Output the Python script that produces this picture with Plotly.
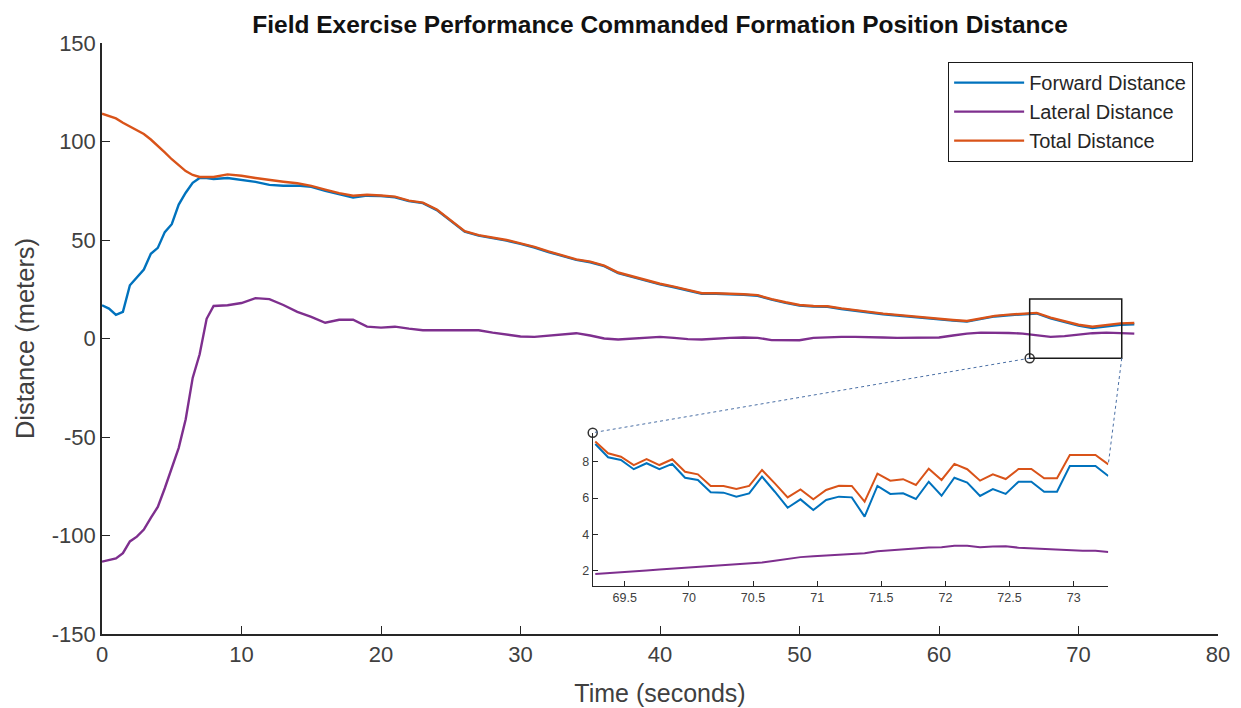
import plotly.graph_objects as go

# ---------------- main data ----------------
time_s = [0, 0.5, 1, 1.5, 2, 2.5, 3, 3.5, 4, 4.5, 5, 5.5, 6, 6.5, 7, 7.5, 8,
          9, 10, 11, 12, 13, 14, 15, 16, 17, 18, 19, 20, 21, 22, 23, 24, 25, 26,
          27, 28, 29, 30, 31, 32, 33, 34, 35, 36, 37, 38, 39, 40, 41, 42, 43, 44,
          45, 46, 47, 48, 49, 50, 51, 52, 53, 54, 55, 56, 57, 58, 59, 60, 61, 62,
          63, 64, 65, 66, 67, 68, 69, 70, 71, 72, 73, 74]

forward_distance = [16.9, 15.2, 12.0, 13.5, 27.0, 31.0, 35.0, 43.0, 46.0, 54.0, 58.0, 68.0, 74.0, 79.0, 81.5, 81.5, 81.0,
                    81.5, 80.5, 79.5, 78.0, 77.5, 77.6, 77.0, 75.0, 73.3, 71.5, 72.5, 72.3, 71.7, 69.7, 68.7, 65.2, 59.7, 54.2,
                    52.2, 50.9, 49.7, 48.0, 46.2, 43.9, 41.7, 39.9, 38.7, 36.7, 33.2, 31.2, 29.2, 27.5, 26.0, 24.2, 22.7, 22.7,
                    22.5, 22.2, 21.7, 19.7, 18.1, 16.7, 16.2, 16.1, 15.0, 14.0, 13.1, 12.3, 11.7, 11.0, 10.3, 9.6, 9.1, 8.6,
                    10.0, 11.2, 11.8, 12.3, 12.7, 10.2, 8.4, 6.6, 5.3, 6.2, 7.0, 7.2]

lateral_distance = [-113.3, -112.5, -111.6, -109.0, -103.0, -100.6, -97.0, -91.0, -85.5, -76.0, -66.0, -55.5, -41.0, -20.0, -8.0, 10.0, 16.5,
                    16.9, 18.0, 20.5, 20.0, 17.0, 13.5, 11.0, 8.0, 9.5, 9.5, 6.0, 5.5, 6.0, 5.0, 4.2, 4.2, 4.2, 4.0,
                    4.2, 3.0, 2.0, 1.0, 0.8, 1.5, 2.3, 2.7, 1.5, 0.0, -0.5, 0.0, 0.5, 0.8, 0.3, -0.3, -0.5, 0.0,
                    0.3, 0.5, 0.3, -0.8, -0.8, -0.9, 0.3, 0.6, 0.8, 0.8, 0.8, 0.5, 0.3, 0.3, 0.3, 0.5, 1.5, 2.5,
                    3.0, 3.0, 2.8, 2.5, 1.8, 0.8, 1.2, 2.0, 2.7, 3.0, 2.8, 2.5]

total_distance = [114.1, 113.0, 111.7, 109.5, 107.5, 105.5, 103.8, 101.0, 98.0, 94.5, 91.0, 88.0, 85.0, 83.0, 82.0, 82.0, 82.0,
                  83.3, 82.6, 81.5, 80.4, 79.6, 78.8, 77.5, 75.6, 73.8, 72.5, 73.0, 72.6, 72.0, 70.0, 69.0, 65.5, 60.0, 54.5,
                  52.5, 51.2, 50.0, 48.3, 46.5, 44.2, 42.0, 40.2, 39.0, 37.0, 33.5, 31.5, 29.5, 27.8, 26.3, 24.5, 23.0, 23.0,
                  22.8, 22.5, 22.0, 20.0, 18.4, 17.0, 16.5, 16.4, 15.3, 14.3, 13.4, 12.6, 12.0, 11.3, 10.6, 9.9, 9.4, 8.9,
                  10.3, 11.5, 12.1, 12.6, 13.0, 10.6, 8.8, 7.0, 6.0, 6.8, 7.7, 7.9]

# ---------------- inset (magnified) data ----------------
inset_time = [69.27, 69.37, 69.47, 69.57, 69.67, 69.77, 69.87, 69.97, 70.07, 70.17, 70.27,
              70.37, 70.47, 70.57, 70.67, 70.77, 70.87, 70.97, 71.07, 71.17, 71.27,
              71.37, 71.47, 71.57, 71.67, 71.77, 71.87, 71.97, 72.07, 72.17, 72.27,
              72.37, 72.47, 72.57, 72.67, 72.77, 72.87, 72.97, 73.07, 73.17, 73.27]
inset_forward = [8.98, 8.25, 8.10, 7.59, 7.92, 7.59, 7.88, 7.12, 7.00, 6.32, 6.30,
                 6.08, 6.26, 7.18, 6.35, 5.47, 5.93, 5.34, 5.90, 6.08, 6.04,
                 4.98, 6.67, 6.23, 6.26, 5.95, 6.90, 6.13, 7.12, 6.85, 6.12,
                 6.50, 6.23, 6.90, 6.90, 6.35, 6.35, 7.77, 7.77, 7.77, 7.22]
inset_lateral = [1.82, 1.86, 1.90, 1.95, 2.02, 2.07, 2.12, 2.18, 2.22, 2.27, 2.30,
                 2.36, 2.40, 2.45, 2.55, 2.65, 2.75, 2.80, 2.83, 2.86, 2.90,
                 2.96, 3.07, 3.12, 3.20, 3.24, 3.28, 3.30, 3.38, 3.38, 3.30,
                 3.33, 3.35, 3.27, 3.23, 3.22, 3.16, 3.10, 3.10, 3.10, 3.03]
inset_total = [9.11, 8.47, 8.28, 7.82, 8.15, 7.82, 8.14, 7.45, 7.31, 6.67, 6.67,
               6.50, 6.67, 7.55, 6.81, 6.04, 6.48, 5.93, 6.45, 6.68, 6.67,
               5.80, 7.35, 6.96, 7.04, 6.72, 7.62, 7.00, 7.88, 7.59, 6.96,
               7.31, 7.05, 7.60, 7.60, 7.09, 7.09, 8.37, 8.37, 8.37, 7.86]

series_names = ["Forward Distance", "Lateral Distance", "Total Distance"]
series_colors = ["#0072BD", "#7E2F8E", "#D95319"]

x_ticks = [0, 10, 20, 30, 40, 50, 60, 70, 80]
y_ticks = [-150, -100, -50, 0, 50, 100, 150]
y_ticklabels = ["-150", "-100", "-50", "0", "50", "100", "150"]
inset_x_ticks = [69.5, 70, 70.5, 71, 71.5, 72, 72.5, 73]
inset_y_ticks = [2, 4, 6, 8]

# axis settings
main_xrange = [0, 80]
main_yrange = [-150, 150]
zoom_box_x = [66.5, 73.1]
zoom_box_y = [-10, 20]
inset_xrange = [69.25, 73.27]
inset_yrange = [1.16, 9.6]
inset_xdom = [0.4397, 0.9017]
inset_ydom = [0.0812, 0.3406]

FONT = "Liberation Sans, Arial, Helvetica, sans-serif"
AX = "#262626"
TXT = "#404040"

fig = go.Figure()
main_vals = [forward_distance, lateral_distance, total_distance]
for name, col, vals in zip(series_names, series_colors, main_vals):
    fig.add_trace(go.Scatter(x=time_s, y=vals, mode="lines", name=name,
                             line=dict(color=col, width=2.4)))
inset_vals = [inset_forward, inset_lateral, inset_total]
for name, col, vals in zip(series_names, series_colors, inset_vals):
    fig.add_trace(go.Scatter(x=inset_time, y=vals, mode="lines", name=name,
                             showlegend=False, xaxis="x2", yaxis="y2",
                             line=dict(color=col, width=2)))


def main_to_paper(x, y):
    return ((x - main_xrange[0]) / (main_xrange[1] - main_xrange[0]),
            (y - main_yrange[0]) / (main_yrange[1] - main_yrange[0]))


def inset_to_paper(x, y):
    px = inset_xdom[0] + (x - inset_xrange[0]) / (inset_xrange[1] - inset_xrange[0]) * (inset_xdom[1] - inset_xdom[0])
    py = inset_ydom[0] + (y - inset_yrange[0]) / (inset_yrange[1] - inset_yrange[0]) * (inset_ydom[1] - inset_ydom[0])
    return px, py


# zoom rectangle on main axes
fig.add_shape(type="rect", xref="x", yref="y", x0=zoom_box_x[0], x1=zoom_box_x[1],
              y0=zoom_box_y[0], y1=zoom_box_y[1], line=dict(color="#1a1a1a", width=1.5))

# connectors
a = main_to_paper(zoom_box_x[0], zoom_box_y[0])
b = inset_to_paper(inset_xrange[0], inset_yrange[1])
c = main_to_paper(zoom_box_x[1], zoom_box_y[0])
d = inset_to_paper(inset_time[-1], inset_total[-1])
for p, q in [(a, b), (c, d)]:
    fig.add_shape(type="line", xref="paper", yref="paper", x0=p[0], y0=p[1], x1=q[0], y1=q[1],
                  line=dict(color="#4a6fa5", width=1, dash="dot"))
fig.add_trace(go.Scatter(x=[a[0], b[0]], y=[a[1], b[1]], mode="markers", showlegend=False,
                         xaxis="x3", yaxis="y3", hoverinfo="skip", cliponaxis=False,
                         marker=dict(symbol="circle", size=9, color="white",
                                     line=dict(color="#333333", width=1.5))))

axis_common = dict(showgrid=False, zeroline=False, showline=True, linecolor=AX,
                   ticks="inside", tickcolor=AX, mirror=False, automargin=False)

fig.update_layout(
    width=1233, height=700,
    margin=dict(l=94, r=23, t=35, b=74, autoexpand=False),
    paper_bgcolor="white", plot_bgcolor="rgba(0,0,0,0)",
    font=dict(family=FONT, color=AX),
    title=dict(text="<b>Field Exercise Performance Commanded Formation Position Distance</b>",
               x=0.5, xref="paper", y=0.977, yref="container", xanchor="center", yanchor="middle",
               font=dict(size=24.5, color="#111111")),
    xaxis=dict(range=main_xrange, tickvals=x_ticks, linewidth=1.5, ticklen=8, tickwidth=1.3,
               tickfont=dict(size=22, color=TXT),
               title=dict(text="Time (seconds)", font=dict(size=25, color=TXT), standoff=18),
               **axis_common),
    yaxis=dict(range=main_yrange, tickvals=y_ticks, ticktext=y_ticklabels, linewidth=1.5,
               ticklen=8, tickwidth=1.3,
               tickfont=dict(size=22, color=TXT),
               title=dict(text="Distance (meters)", font=dict(size=25.5, color=TXT), standoff=10),
               **axis_common),
    xaxis2=dict(domain=inset_xdom, anchor="y2", range=inset_xrange, tickvals=inset_x_ticks,
                linewidth=1.2, ticklen=5, tickfont=dict(size=12.5, color=TXT), **axis_common),
    yaxis2=dict(domain=inset_ydom, anchor="x2", range=inset_yrange, tickvals=inset_y_ticks,
                linewidth=1.2, ticklen=5, tickfont=dict(size=12.5, color=TXT), **axis_common),
    xaxis3=dict(domain=[0, 1], range=[0, 1], visible=False, overlaying="x", anchor="y3"),
    yaxis3=dict(domain=[0, 1], range=[0, 1], visible=False, overlaying="y", anchor="x3"),
    legend=dict(x=0.758, y=0.968, xanchor="left", yanchor="top",
                bgcolor="white", bordercolor="#1a1a1a", borderwidth=1.2,
                font=dict(size=20, color="#262626"), tracegroupgap=0, itemwidth=70),
    showlegend=True,
)

fig.write_html("out.html")
